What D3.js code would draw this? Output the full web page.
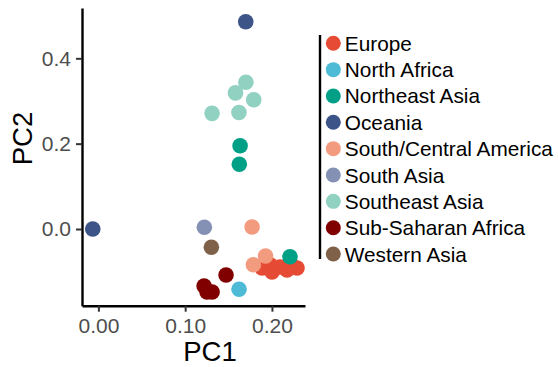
<!DOCTYPE html>
<html>
<head>
<meta charset="utf-8">
<script src="https://cdn.jsdelivr.net/npm/d3@7/dist/d3.min.js"></script>
<style>
  html, body { margin: 0; padding: 0; background: #fff; }
  svg { display: block; font-family: "Liberation Sans", Arial, Helvetica, sans-serif; }
</style>
</head>
<body>
<svg id="chart" width="558" height="367"></svg>
<script>
// ---- data ----
const regions = ["Europe", "North Africa", "Northeast Asia", "Oceania", "South/Central America",
                 "South Asia", "Southeast Asia", "Sub-Saharan Africa", "Western Asia"];
const regionColors = ["#E64B35", "#4DBBD5", "#00A087", "#3C5488", "#F39B7F",
                      "#8491B4", "#91D1C2", "#800000", "#7E6148"];

const pointRegion = [
  "Europe","Europe","Europe","Europe","Europe","Europe","Europe",
  "North Africa",
  "Northeast Asia","Northeast Asia","Northeast Asia",
  "Oceania","Oceania",
  "South/Central America","South/Central America","South/Central America",
  "South Asia",
  "Southeast Asia","Southeast Asia","Southeast Asia","Southeast Asia","Southeast Asia",
  "Sub-Saharan Africa","Sub-Saharan Africa","Sub-Saharan Africa","Sub-Saharan Africa",
  "Western Asia"
];
const pc1 = [
  0.1886, 0.1978, 0.2001, 0.2093, 0.2174, 0.2232, 0.2289,
  0.1621,
  0.1633, 0.1624, 0.2208,
  0.1698, -0.0065,
  0.1771, 0.1926, 0.1786,
  0.1221,
  0.1700, 0.1580, 0.1790, 0.1310, 0.1620,
  0.1218, 0.1252, 0.1310, 0.1471,
  0.1302
];
const pc2 = [
  -0.0914, -0.0840, -0.1008, -0.0891, -0.0961, -0.0867, -0.0914,
  -0.1413,
  0.1952, 0.1516, -0.0649,
  0.4858, 0.0000,
  0.0047, -0.0633, -0.0837,
  0.0040,
  0.3440, 0.3190, 0.3030, 0.2710, 0.2730,
  -0.1336, -0.1476, -0.1476, -0.1078,
  -0.0429
];
const xTicks = [0.00, 0.10, 0.20];
const yTicks = [0.0, 0.2, 0.4];

// ---- chart ----
const svg = d3.select("#chart");
const x = d3.scaleLinear().domain([-0.0189, 0.2381]).range([82, 305]);
const y = d3.scaleLinear().domain([-0.1797, 0.5179]).range([305.7, 8]);
const color = d3.scaleOrdinal().domain(regions).range(regionColors);

const points = pc1.map((v, i) => ({ x: v, y: pc2[i], r: pointRegion[i] }));

// points
svg.append("g")
  .selectAll("circle")
  .data(points)
  .join("circle")
  .attr("cx", d => x(d.x))
  .attr("cy", d => y(d.y))
  .attr("r", 7.8)
  .attr("fill", d => color(d.r));

// x axis
const xAxis = svg.append("g")
  .attr("transform", `translate(0,${y.range()[0]})`)
  .call(d3.axisBottom(x).tickValues(xTicks).tickFormat(d3.format(".2f"))
        .tickSize(6).tickSizeOuter(0).tickPadding(6));
xAxis.select(".domain").attr("stroke", "#000").attr("stroke-width", 2.4);
xAxis.selectAll(".tick line").attr("stroke", "#333").attr("stroke-width", 2);
xAxis.selectAll(".tick text").attr("fill", "#4D4D4D").attr("font-size", 21)
  .attr("font-family", "Liberation Sans, Arial, sans-serif");

// y axis
const yAxis = svg.append("g")
  .attr("transform", `translate(${x.range()[0]},0)`)
  .call(d3.axisLeft(y).tickValues(yTicks).tickFormat(d3.format(".1f"))
        .tickSize(6).tickSizeOuter(0).tickPadding(5));
yAxis.select(".domain").attr("stroke", "#000").attr("stroke-width", 2.4);
yAxis.selectAll(".tick line").attr("stroke", "#333").attr("stroke-width", 2);
yAxis.selectAll(".tick text").attr("fill", "#4D4D4D").attr("font-size", 21)
  .attr("font-family", "Liberation Sans, Arial, sans-serif");

// axis titles
svg.append("text")
  .attr("x", 210).attr("y", 361)
  .attr("text-anchor", "middle")
  .attr("font-size", 27.5)
  .attr("fill", "#000")
  .text("PC1");
svg.append("text")
  .attr("transform", "translate(32,138.5) rotate(-90)")
  .attr("text-anchor", "middle")
  .attr("font-size", 27.5)
  .attr("fill", "#000")
  .text("PC2");

// legend
const legendTop = 43.3, legendStep = 26.34;
svg.append("line")
  .attr("x1", 320).attr("x2", 320)
  .attr("y1", 35).attr("y2", 259)
  .attr("stroke", "#000").attr("stroke-width", 2.4);
const leg = svg.append("g")
  .selectAll("g")
  .data(regions)
  .join("g")
  .attr("transform", (d, i) => `translate(333.3,${legendTop + i * legendStep})`);
leg.append("circle").attr("r", 7.5).attr("fill", d => color(d));
leg.append("text")
  .attr("x", 11.5).attr("dy", "0.36em")
  .attr("font-size", 20.8)
  .attr("fill", "#000")
  .text(d => d);
</script>
</body>
</html>
